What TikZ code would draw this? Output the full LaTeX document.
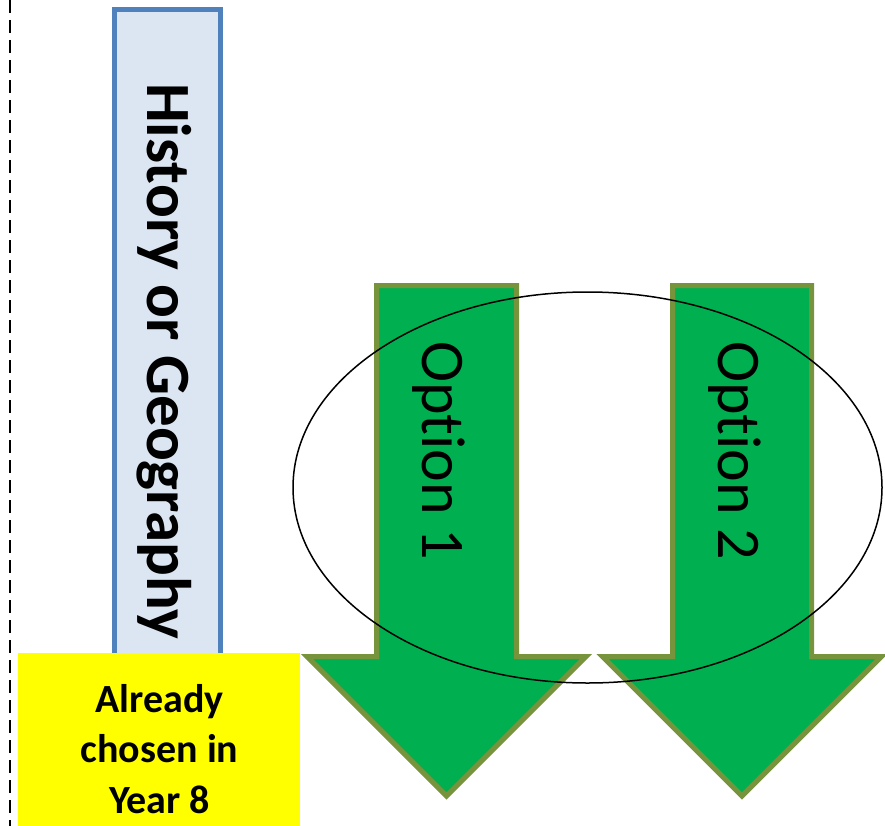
\documentclass[tikz,border=0pt]{standalone}
\usepackage{fontspec}
\setmainfont{Carlito}[Ligatures={NoCommon}]
\usetikzlibrary{shapes.geometric}
\definecolor{arrowgreen}{HTML}{00B050}
\definecolor{arrowolive}{HTML}{77933C}
\definecolor{barblue}{HTML}{4F81BD}
\definecolor{barfill}{HTML}{DCE6F2}
\definecolor{boxyellow}{HTML}{FFFF00}
\tikzset{
  greenarrow/.style={fill=arrowgreen, draw=arrowolive, line width=5pt, line join=miter},
  optiontext/.style={rotate=-90, anchor=base west, inner sep=0pt, font=\fontsize{62}{62}\selectfont},
  cut/.style={dash pattern=on 13pt off 7pt, line width=2pt}
}
\begin{document}
\begin{tikzpicture}[x=1pt,y=-1pt]
\useasboundingbox (0,0) rectangle (885,826);
% History / Geography bar
\node[draw=barblue, fill=barfill, line width=4.5pt, anchor=north west, inner sep=0pt,
      minimum width=106pt, minimum height=700pt] (bar) at (112,7.5) {};
\node[rotate=-90, anchor=base west, inner sep=0pt, font=\fontsize{63}{63}\selectfont\bfseries]
      (hist) at (147,83) {History or Geography};
% yellow box
\node[fill=boxyellow, anchor=north west, inner sep=0pt, minimum width=282pt, minimum height=180pt] (chosen) at (18,653) {};
\node[align=center, anchor=base, inner sep=0pt, font=\fontsize{40}{50.5}\selectfont\bfseries]
      (chosentext) at (159.5,813) {Already\\chosen in\\Year 8};
% arrows
\draw[greenarrow] (376.5,285.5) -- (516.5,285.5) -- (516.5,656.5) -- (586,656.5)
   -- (446.5,796) -- (307,656.5) -- (376.5,656.5) -- cycle;
\draw[greenarrow] (672.5,285.5) -- (811.5,285.5) -- (811.5,656.5) -- (881.5,656.5)
   -- (742,796) -- (602.5,656.5) -- (672.5,656.5) -- cycle;
\node[optiontext] (opt1) at (422,341) {Option 1};
\node[optiontext] (opt2) at (718,341) {Option 2};
% ellipse
\node[ellipse, draw=black, line width=1.5pt, inner sep=0pt, minimum width=589pt, minimum height=391pt]
      (ring) at (587.5,487.5) {};
% dashed cut line
\coordinate (dtop) at (9.5,0);
\coordinate (dbot) at (9.5,826);
\draw[cut] (dtop) -- (dbot);
\end{tikzpicture}
\end{document}
